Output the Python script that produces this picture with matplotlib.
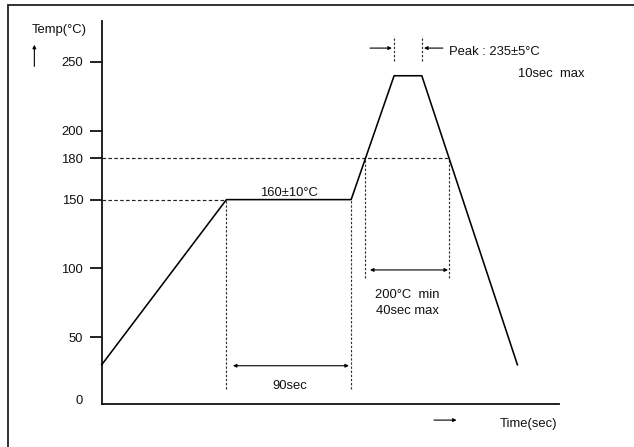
import matplotlib
matplotlib.use("Agg")
import matplotlib.pyplot as plt
from matplotlib.patches import Rectangle

plt.rcParams['font.family'] = ['Liberation Sans', 'DejaVu Sans']

# Reflow profile data
time_s = [0, 90, 180, 211, 231, 300]
temp_c = [30, 150, 150, 240, 240, 30]

y_ticks = [50, 100, 150, 180, 200, 250]
y_tick_labels = ['50', '100', '150', '180', '200', '250']

preheat_start, preheat_end = 90, 180
reflow_start, reflow_end = 190.3, 250.7
peak_start, peak_end = 211, 231
level_preheat, level_reflow = 150, 180

W, H = 634, 447
fig = plt.figure(figsize=(W / 100, H / 100), dpi=100)
ax = fig.add_axes([101.7 / W, 43 / H, (559 - 101.7) / W, (404 - 20.7) / H])
ax.set_xlim(0, 330)
ax.set_ylim(1.5, 280)

# frame around the whole figure
fig.add_artist(Rectangle((8 / W, -0.05), 1.2, (447 - 5) / H + 0.05, transform=fig.transFigure,
                         fill=False, edgecolor='#222222', lw=1.3))

for s in ['top', 'right']:
    ax.spines[s].set_visible(False)
for s in ['left', 'bottom']:
    ax.spines[s].set_linewidth(1.3)
    ax.spines[s].set_color('#111111')
ax.set_xticks([])
ax.set_yticks(y_ticks)
ax.set_yticklabels(y_tick_labels)
fs = 9.4
ax.tick_params(axis='y', length=8.5, width=1.3, pad=4.8, labelsize=fs, color='#111111',
               labelcolor='#111111')
ax.text(-13.5, 3.6, '0', ha='right', va='center', fontsize=fs, color='#111111')

# profile curve
ax.plot(time_s, temp_c, color='black', lw=1.15, clip_on=False, zorder=3)

dash_h = dict(color='#222222', lw=0.85, ls=(0, (3, 2)))
dash_v = dict(color='#333333', lw=0.85, ls=(0, (2, 1.5)))

# horizontal guide lines
ax.plot([0, preheat_start], [level_preheat, level_preheat], **dash_h)
ax.plot([0, reflow_end], [level_reflow, level_reflow], **dash_h)

# vertical guide lines
ax.plot([preheat_start, preheat_start], [12.4, level_preheat], **dash_v)
ax.plot([preheat_end, preheat_end], [12.4, level_preheat], **dash_v)
ax.plot([reflow_start, reflow_start], [93, level_reflow], **dash_v)
ax.plot([reflow_end, reflow_end], [93, level_reflow], **dash_v)
ax.plot([peak_start, peak_start], [250.9, 268.6], **dash_v, clip_on=False)
ax.plot([peak_end, peak_end], [250.9, 268.6], **dash_v, clip_on=False)

def arrow(x0, y0, x1, y1, style='-|>'):
    ax.annotate('', xy=(x1, y1), xytext=(x0, y0), annotation_clip=False,
                arrowprops=dict(arrowstyle=style, lw=0.8, color='black',
                                mutation_scale=5, shrinkA=0, shrinkB=0))

arrow(94.7, 29.3, 178.4, 29.3, '<|-|>')
arrow(193.6, 98.9, 249.9, 98.9, '<|-|>')
arrow(193.6, 260.1, 209.4, 260.1)
arrow(246.2, 260.1, 232.6, 260.1)
arrow(-48.6, 246.8, -48.6, 262.5)
arrow(239.8, -10.2, 256.1, -10.2)

tc = '#111111'
ax.text(135.2, 154.5, '160±10°C', ha='center', va='center', fontsize=fs, color=tc)
ax.text(135.9, 14.8, '90sec', ha='center', va='center', fontsize=fs, color=tc)
ax.text(197.2, 81, '200°C  min', ha='left', va='center', fontsize=fs, color=tc)
ax.text(197.8, 69.3, '40sec max', ha='left', va='center', fontsize=fs, color=tc)
ax.text(250.8, 257, 'Peak : 235±5°C', ha='left', va='center', fontsize=fs, color=tc, clip_on=False)
ax.text(300.4, 241.5, '10sec  max', ha='left', va='center', fontsize=fs, color=tc, clip_on=False)
ax.text(-50.5, 273.5, 'Temp(°C)', ha='left', va='center', fontsize=fs, color=tc, clip_on=False)
ax.text(287.4, -13.1, 'Time(sec)', ha='left', va='center', fontsize=fs, color=tc, clip_on=False)

fig.savefig('out.png', dpi=100)
